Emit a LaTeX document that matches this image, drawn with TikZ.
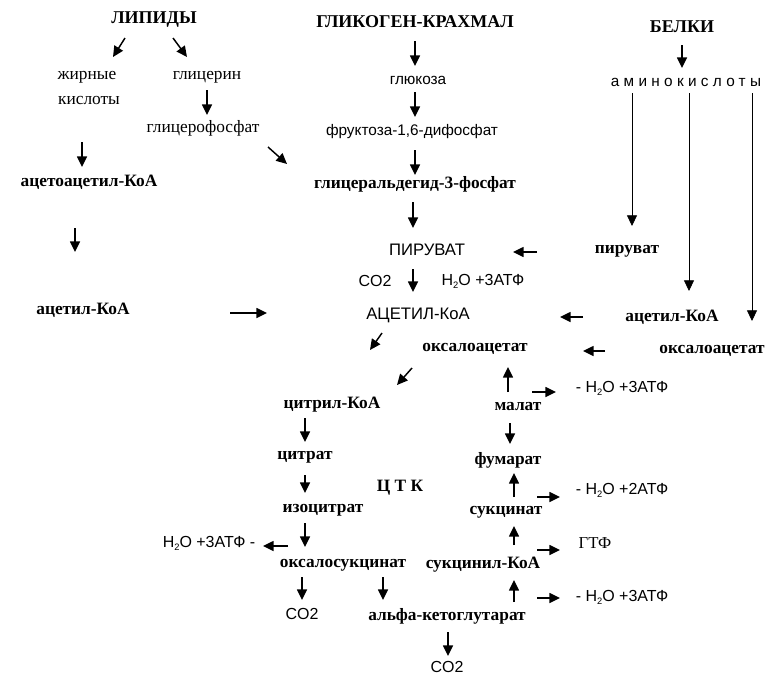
\documentclass[tikz,border=0pt]{standalone}
\usepackage{fontspec}
\setmainfont{Liberation Serif}
\newfontfamily\sansf{Liberation Sans}
\newfontfamily\sansls[LetterSpace=28]{Liberation Sans}
\usetikzlibrary{arrows.meta}
\newcommand\waterH{H\raisebox{-0.35ex}{\fontsize{7}{8}\selectfont 2}O}
\begin{document}
\begin{tikzpicture}[x=0.75pt,y=-0.75pt,
 arr/.style={line width=1.1pt,-{Triangle[width=7.5pt,length=8pt]}},
 thinarr/.style={line width=0.6pt,-{Triangle[width=7.5pt,length=8pt]}},
 hd/.style={font=\bfseries\fontsize{13.5}{16}\selectfont, inner sep=0pt},
 bd/.style={font=\bfseries\fontsize{13}{15}\selectfont, inner sep=0pt},
 rg/.style={font=\fontsize{13}{15}\selectfont, inner sep=0pt},
 sf/.style={font=\sansf\fontsize{11.5}{14}\selectfont, inner sep=0pt}]
\useasboundingbox (0,0) rectangle (769,675);
\fill[white] (0,0) rectangle (769,675);

% ---- LIPIDS ----
\node[hd] (lip) at (154,20) {ЛИПИДЫ};
\node[rg] (zh1) at (87,77) {жирные};
\node[rg] (zh2) at (89,100) {кислоты};
\node[rg] (gln) at (207,77) {глицерин};
\node[rg] (glf) at (203,128) {глицерофосфат};
\node[bd] (aceto) at (89,182) {ацетоацетил-КоА};
\node[bd] (acL) at (83,310) {ацетил-КоА};
\draw[arr] (125,38) -- (113,57);
\draw[arr] (173,38) -- (187,57);
\draw[arr] (207,90) -- (207,115);
\draw[arr] (82,142) -- (82,167);
\draw[arr] (268,147) -- (287,164);
\draw[arr] (75,228) -- (75,252);
\draw[arr] (230,313) -- (267,313);

% ---- GLYCOGEN ----
\node[hd] (gk) at (415,22) {ГЛИКОГЕН-КРАХМАЛ};
\node[sf] (glu) at (418,80) {глюкоза};
\node[sf] (fru) at (412,132) {фруктоза-1,6-дифосфат};
\node[bd] (gal) at (415,184) {глицеральдегид-3-фосфат};
\node[sf,font=\sansf\fontsize{12.5}{14}\selectfont] (pir) at (427,250) {ПИРУВАТ};
\node[sf,font=\sansf\fontsize{12}{14}\selectfont] (co2a) at (375,281) {CO2};
\node[sf,font=\sansf\fontsize{12}{14}\selectfont] (h2oa) at (483,281) {\waterH\ +3АТФ};
\node[sf,font=\sansf\fontsize{12.5}{14}\selectfont] (acC) at (418,315) {АЦЕТИЛ-КоА};
\draw[arr] (415,41) -- (415,66);
\draw[arr] (415,92) -- (415,117);
\draw[arr] (415,150) -- (415,175);
\draw[arr] (413,202) -- (413,228);
\draw[arr] (413,269) -- (413,292);
\draw[arr] (382,333) -- (370,350);

% ---- PROTEINS ----
\node[hd] (bel) at (682,27) {БЕЛКИ};
\node[sf] (amk) at (686,82) {\sansls\fontsize{11.5}{14}\selectfont аминокислоты};
\node[bd] (pirR) at (627,251) {пируват};
\node[bd] (acR) at (672,317) {ацетил-КоА};
\node[bd] (oxR) at (712,351) {оксалоацетат};
\draw[arr] (682,45) -- (682,68);
\draw[thinarr] (632,93) -- (632,226);
\draw[thinarr] (689,93) -- (689,291);
\draw[thinarr] (752,93) -- (752,321);
\draw[arr] (537,252) -- (513,252);
\draw[arr] (583,317) -- (560,317);
\draw[arr] (605,351) -- (583,351);

% ---- TCA ----
\node[bd] (oxC) at (475,349) {оксалоацетат};
\node[bd] (cil) at (332,405) {цитрил-КоА};
\node[bd] (cit) at (305,457) {цитрат};
\node[bd] (tck) at (400,488) {Ц Т К};
\node[bd] (icit) at (323,510) {изоцитрат};
\node[sf,font=\sansf\fontsize{12}{14}\selectfont] (h2ob) at (209,543) {\waterH\ +3АТФ -};
\node[bd] (oxs) at (343,565) {оксалосукцинат};
\node[sf,font=\sansf\fontsize{12}{14}\selectfont] (co2b) at (302,614) {CO2};
\node[bd] (akg) at (447,616) {альфа-кетоглутарат};
\node[sf,font=\sansf\fontsize{12}{14}\selectfont] (co2c) at (447,667) {CO2};
\node[bd] (mal) at (518,407) {малат};
\node[bd] (fum) at (508,460) {фумарат};
\node[bd] (suc) at (506,512) {сукцинат};
\node[bd] (suk) at (483,565) {сукцинил-КоА};
\node[sf,font=\sansf\fontsize{12}{14}\selectfont] (r1) at (622,388) {- \waterH\ +3АТФ};
\node[sf,font=\sansf\fontsize{12}{14}\selectfont] (r2) at (622,490) {- \waterH\ +2АТФ};
\node[rg,font=\fontsize{12.5}{14}\selectfont] (gtf) at (595,543) {ГТФ};
\node[sf,font=\sansf\fontsize{12}{14}\selectfont] (r3) at (622,597) {- \waterH\ +3АТФ};

\draw[arr] (412,368) -- (397,385);
\draw[arr] (305,418) -- (305,442);
\draw[arr] (305,475) -- (305,493);
\draw[arr] (305,523) -- (305,547);
\draw[arr] (288,546) -- (263,546);
\draw[arr] (302,577) -- (302,600);
\draw[arr] (383,577) -- (383,600);
\draw[arr] (448,632) -- (448,656);
\draw[arr] (508,392) -- (508,367);
\draw[arr] (532,392) -- (556,392);
\draw[arr] (510,423) -- (510,444);
\draw[arr] (514,497) -- (514,473);
\draw[arr] (537,497) -- (560,497);
\draw[arr] (514,545) -- (514,526);
\draw[arr] (537,550) -- (560,550);
\draw[arr] (514,602) -- (514,580);
\draw[arr] (537,598) -- (560,598);
\end{tikzpicture}
\end{document}
